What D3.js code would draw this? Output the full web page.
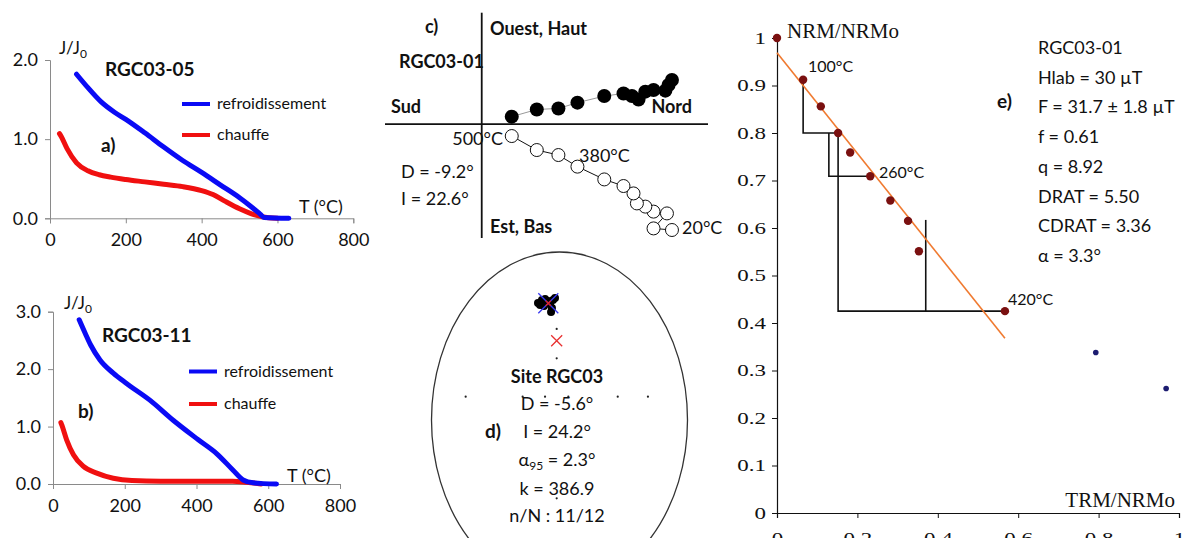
<!DOCTYPE html>
<html><head><meta charset="utf-8">
<script src="https://cdn.jsdelivr.net/npm/d3@7"></script>
<style>
body{margin:0;background:#fff}
svg{display:block}
text{font-family:Lato,"Open Sans",sans-serif;fill:#111}
</style>
</head><body>
<svg id="c" width="1198" height="538"></svg>
<script>
// ---------- Panel a (RGC03-05) ----------
const tempA_cool = [70, 100, 135, 170, 200, 250, 300, 350, 400, 450, 500, 530, 555, 565, 630];
const jA_cool    = [1.82, 1.65, 1.47, 1.34, 1.25, 1.08, 0.90, 0.73, 0.58, 0.42, 0.26, 0.15, 0.05, 0.01, 0.0];
const tempA_heat = [25, 30, 45, 70, 100, 130, 160, 200, 250, 300, 350, 400, 430, 460, 500, 530, 560, 600];
const jA_heat    = [1.07, 1.03, 0.88, 0.70, 0.60, 0.55, 0.52, 0.49, 0.46, 0.43, 0.40, 0.35, 0.30, 0.22, 0.12, 0.06, 0.02, 0.0];
// ---------- Panel b (RGC03-11) ----------
const tempB_cool = [73, 90, 105, 131, 168, 205, 270, 335, 405, 456, 502, 530, 558, 623];
const jB_cool    = [2.86, 2.62, 2.42, 2.16, 1.93, 1.75, 1.46, 1.11, 0.77, 0.53, 0.24, 0.07, 0.02, 0.0];
const tempB_heat = [22, 25, 38, 57, 84, 122, 168, 220, 300, 400, 500, 540, 580];
const jB_heat    = [1.07, 1.02, 0.77, 0.51, 0.31, 0.19, 0.10, 0.06, 0.05, 0.05, 0.05, 0.03, 0.0];
const tempTicks = [0, 200, 400, 600, 800];
const jTicksA = [0, 1, 2];
const jTicksB = [0, 1, 2, 3];
const legendLabels = ["refroidissement", "chauffe"];

// ---------- Panel c (Zijderveld RGC03-01), 20°C -> 500°C ----------
const horizNorth = [9.5, 9.33, 9.17, 8.58, 8.17, 7.83, 7.5, 7.08, 6.12, 4.78, 3.83, 2.75, 1.5];
const horizWest  = [2.2, 1.95, 1.67, 1.7, 1.62, 1.23, 1.4, 1.53, 1.4, 1.07, 0.78, 0.73, 0.37];
const vertNorth  = [9.5, 8.58, 9.25, 8.58, 8.17, 7.75, 7.58, 7.08, 6.12, 4.78, 3.83, 2.75, 1.5];
const vertUp     = [-5.3, -5.22, -4.47, -4.38, -4.13, -3.97, -3.47, -3.1, -2.77, -2.13, -1.55, -1.3, -0.6];

// ---------- Panel d (stereonet, normalized coords) ----------
const sampleX = [-0.168, -0.137, -0.113, -0.090, -0.074, -0.059, -0.066, -0.051, -0.035, -0.121, -0.152];
const sampleY = [0.696, 0.714, 0.720, 0.708, 0.690, 0.667, 0.643, 0.714, 0.726, 0.679, 0.685];
const meanDir = [-0.0875, 0.695];
const refDir  = [-0.022, 0.472];
const gridX = [-0.733, 0.691, 0.455, -0.022, -0.022, -0.022, -0.288, -0.113, 0.069];
const gridY = [0.139, 0.139, 0.139, 0.542, 0.367, -0.466, 0.139, 0.139, 0.139];

// ---------- Panel e (Arai plot RGC03-01) ----------
const trm = [0, 0.065, 0.109, 0.152, 0.182, 0.232, 0.282, 0.326, 0.353, 0.567];
const nrm = [1, 0.912, 0.856, 0.800, 0.759, 0.709, 0.658, 0.615, 0.551, 0.425];
const trmOut = [0.793, 0.968];
const nrmOut = [0.338, 0.262];
const fitTrm = [0, 0.567];
const fitNrm = [0.969, 0.368];
const checkTrm = [[0.065, 0.065, 0.152], [0.129, 0.129, 0.232], [0.152, 0.152, 0.567], [0.370, 0.370]];
const checkNrm = [[0.912, 0.800, 0.800], [0.800, 0.709, 0.709], [0.800, 0.425, 0.425], [0.617, 0.425]];
const araiTicks = [0, 0.1, 0.2, 0.3, 0.4, 0.5, 0.6, 0.7, 0.8, 0.9, 1];
const araiXTicks = [0, 0.2, 0.4, 0.6, 0.8, 1];
const statsLines = ["RGC03-01", "Hlab = 30 µT", "F =  31.7 ± 1.8 µT", "f = 0.61", "q = 8.92", "DRAT = 5.50", "CDRAT = 3.36", "α = 3.3°"];

const svg = d3.select("#c");
const BLUE = "#0a0af5", RED = "#f01010";

function styleAxis(g, color, fontSize, family) {
  g.select(".domain").attr("stroke", color);
  g.selectAll(".tick line").attr("stroke", color);
  g.selectAll(".tick text").attr("fill", "#111").style("font-size", fontSize + "px")
    .style("font-family", family);
}

function thermo(opts) {
  const x = d3.scaleLinear([0, 800], opts.xr);
  const y = d3.scaleLinear([0, opts.ymax], opts.yr);
  const g = svg.append("g");
  const ax = g.append("g").attr("transform", `translate(0,${opts.yr[0]})`)
    .call(d3.axisBottom(x).tickValues(tempTicks).tickSize(5).tickPadding(10).tickFormat(d3.format("d")));
  styleAxis(ax, "#8a8a8a", 18, "Lato");
  const ay = g.append("g").attr("transform", `translate(${opts.xr[0]},0)`)
    .call(d3.axisLeft(y).tickValues(opts.yt).tickSize(5).tickPadding(7).tickFormat(d3.format(".1f")));
  styleAxis(ay, "#8a8a8a", 18, "Lato");
  const line = d3.line().x(d => x(d[0])).y(d => y(d[1])).curve(d3.curveMonotoneX);
  g.append("path").datum(d3.zip(opts.th, opts.jh)).attr("d", line)
    .attr("fill", "none").attr("stroke", RED).attr("stroke-width", 5).attr("stroke-linecap", "round");
  g.append("path").datum(d3.zip(opts.tc, opts.jc)).attr("d", line)
    .attr("fill", "none").attr("stroke", BLUE).attr("stroke-width", 5).attr("stroke-linecap", "round");
  const cols = [BLUE, RED];
  legendLabels.forEach((lab, i) => {
    const ly = opts.leg[1] + i * opts.leg[2];
    g.append("line").attr("x1", opts.leg[0]).attr("x2", opts.leg[0] + 28).attr("y1", ly).attr("y2", ly)
      .attr("stroke", cols[i]).attr("stroke-width", 4);
    g.append("text").attr("x", opts.leg[0] + 35).attr("y", ly + 5).style("font-size", "16px").text(lab);
  });
  g.append("text").attr("x", opts.title[0]).attr("y", opts.title[1]).style("font-size", "19px")
    .style("font-weight", "bold").text(opts.name);
  g.append("text").attr("x", opts.lab[0]).attr("y", opts.lab[1]).style("font-size", "19px")
    .style("font-weight", "bold").text(opts.letter);
  const jj = g.append("text").attr("x", opts.jl[0]).attr("y", opts.jl[1]).style("font-size", "17px");
  jj.append("tspan").text("J/J");
  jj.append("tspan").attr("dy", 4).style("font-size", "12px").text("0");
  g.append("text").attr("x", opts.tl[0]).attr("y", opts.tl[1]).style("font-size", "18px").text("T (°C)");
}

thermo({xr: [50, 353.3], yr: [218.3, 60], ymax: 2, yt: jTicksA,
  tc: tempA_cool, jc: jA_cool, th: tempA_heat, jh: jA_heat,
  leg: [182, 104, 31], title: [105, 76], name: "RGC03-05", lab: [101, 152], letter: "a)",
  jl: [59, 54], tl: [299, 213]});
thermo({xr: [53, 340], yr: [484, 311.7], ymax: 3, yt: jTicksB,
  tc: tempB_cool, jc: jB_cool, th: tempB_heat, jh: jB_heat,
  leg: [189, 371.5, 32.5], title: [102, 342], name: "RGC03-11", lab: [78, 418], letter: "b)",
  jl: [64, 309], tl: [287, 482]});

// ---------- Panel c ----------
{
  const x = d3.scaleLinear([-4.83, 11.3], [385, 708]);
  const y = d3.scaleLinear([-5.7, 5.57], [238, 12.7]);
  const g = svg.append("g");
  g.append("line").attr("x1", x(-4.83)).attr("x2", x(11.3)).attr("y1", y(0)).attr("y2", y(0))
    .attr("stroke", "#111").attr("stroke-width", 1.8);
  g.append("line").attr("x1", x(0)).attr("x2", x(0)).attr("y1", y(5.57)).attr("y2", y(-5.7))
    .attr("stroke", "#111").attr("stroke-width", 1.8);
  const line = d3.line().x(d => x(d[0])).y(d => y(d[1]));
  const hd = d3.zip(horizNorth, horizWest), vd = d3.zip(vertNorth, vertUp);
  g.append("path").datum(hd).attr("d", line).attr("fill", "none").attr("stroke", "#999").attr("stroke-width", 1);
  g.append("path").datum(vd).attr("d", line).attr("fill", "none").attr("stroke", "#111").attr("stroke-width", 1);
  g.selectAll(".h").data(hd).join("circle").attr("cx", d => x(d[0])).attr("cy", d => y(d[1]))
    .attr("r", 7).attr("fill", "#000");
  g.selectAll(".v").data(vd).join("circle").attr("cx", d => x(d[0])).attr("cy", d => y(d[1]))
    .attr("r", 6.5).attr("fill", "#fff").attr("stroke", "#111").attr("stroke-width", 1);
  const T = (xx, yy, s, bold, anchor) => g.append("text").attr("x", xx).attr("y", yy).style("font-size", "18px")
    .style("font-weight", bold ? "bold" : "normal").attr("text-anchor", anchor || "start").text(s);
  T(425, 33, "c)", true);
  T(490, 35, "Ouest, Haut", true);
  T(399, 68, "RGC03-01", true);
  T(391, 113, "Sud", true);
  T(692, 113, "Nord", true, "end");
  T(503, 145, "500°C", false, "end");
  T(401, 178, "D = -9.2°");
  T(401, 205, "I = 22.6°");
  T(490, 233, "Est, Bas", true);
  T(579, 162, "380°C");
  T(682, 234, "20°C");
}

// ---------- Panel d ----------
{
  const cx = 559.5, cy = 420, rx = 128, ry = 168;
  const x = d3.scaleLinear([-1, 1], [cx - rx, cx + rx]);
  const y = d3.scaleLinear([-1, 1], [cy + ry, cy - ry]);
  const g = svg.append("g");
  g.append("ellipse").attr("cx", x(0)).attr("cy", y(0)).attr("rx", x(1) - x(0)).attr("ry", y(0) - y(1))
    .attr("fill", "none").attr("stroke", "#333").attr("stroke-width", 1.3);
  g.selectAll(".gd").data(d3.zip(gridX, gridY)).join("circle").attr("cx", d => x(d[0])).attr("cy", d => y(d[1]))
    .attr("r", 1.1).attr("fill", "#222");
  g.selectAll(".sd").data(d3.zip(sampleX, sampleY)).join("circle").attr("cx", d => x(d[0])).attr("cy", d => y(d[1]))
    .attr("r", 4).attr("fill", "#000");
  const cross = (p, s, col, w) => {
    const X = x(p[0]), Y = y(p[1]);
    g.append("path").attr("d", `M${X - s},${Y - s}L${X + s},${Y + s}M${X - s},${Y + s}L${X + s},${Y - s}`)
      .attr("stroke", col).attr("stroke-width", w).attr("fill", "none");
  };
  cross(meanDir, 10, "#3a3af0", 1.3);
  cross(meanDir, 2.5, "#e02020", 1.3);
  cross(refDir, 5.5, "#e83030", 1.3);
  const T = (xx, yy, s, bold) => g.append("text").attr("x", xx).attr("y", yy).style("font-size", "18px")
    .style("font-weight", bold ? "bold" : "normal").attr("text-anchor", "middle").text(s);
  T(557, 383, "Site RGC03", true);
  T(557, 410, "D = -5.6°");
  T(557, 438, "I = 24.2°");
  const a = g.append("text").attr("x", 557).attr("y", 466).style("font-size", "18px").attr("text-anchor", "middle");
  a.append("tspan").text("α");
  a.append("tspan").attr("dy", 4).style("font-size", "12px").text("95");
  a.append("tspan").attr("dy", -4).text(" = 2.3°");
  T(557, 495, "k = 386.9");
  T(557, 522, "n/N : 11/12");
  g.append("text").attr("x", 485).attr("y", 438).style("font-size", "19px").style("font-weight", "bold").text("d)");
}

// ---------- Panel e ----------
{
  const x = d3.scaleLinear([0, 1], [777, 1179]);
  const y = d3.scaleLinear([0, 1], [513, 38]);
  const g = svg.append("g");
  const serif = "'Liberation Serif','Times New Roman',serif";
  const fmt = d => d === 0 || d === 1 ? d : d3.format(".1f")(d);
  const stretch = 1.35;
  const ax = g.append("g").attr("transform", `translate(0,${y(0)})`)
    .call(d3.axisBottom(x).tickValues(araiXTicks).tickSize(5).tickPadding(14).tickFormat(fmt));
  styleAxis(ax, "#111", 17, serif);
  ax.selectAll(".tick text").attr("transform", `scale(${stretch},1)`);
  const ay = g.append("g").attr("transform", `translate(${x(0)},0)`)
    .call(d3.axisLeft(y).tickValues(araiTicks).tickSize(5).tickPadding(9).tickFormat(fmt));
  styleAxis(ay, "#111", 17, serif);
  ay.selectAll(".tick text").attr("x", -11 / stretch).attr("transform", `scale(${stretch},1)`);
  g.selectAll(".domain").attr("stroke-width", 1.2);
  const line = d3.line().x(d => x(d[0])).y(d => y(d[1]));
  checkTrm.forEach((c, i) => {
    g.append("path").datum(d3.zip(c, checkNrm[i])).attr("d", line).attr("fill", "none")
      .attr("stroke", "#111").attr("stroke-width", 1.6);
  });
  g.append("path").datum(d3.zip(fitTrm, fitNrm)).attr("d", line).attr("fill", "none")
    .attr("stroke", "#f07a30").attr("stroke-width", 1.6);
  g.selectAll(".p").data(d3.zip(trm, nrm)).join("circle").attr("cx", d => x(d[0])).attr("cy", d => y(d[1]))
    .attr("r", 4.2).attr("fill", "#7a1010");
  g.selectAll(".o").data(d3.zip(trmOut, nrmOut)).join("circle").attr("cx", d => x(d[0])).attr("cy", d => y(d[1]))
    .attr("r", 2.8).attr("fill", "#1c1c70");
  g.append("text").attr("x", 787).attr("y", 38).style("font-family", serif).style("font-size", "21px").text("NRM/NRMo");
  g.append("text").attr("x", 1175).attr("y", 507).attr("text-anchor", "end").style("font-family", serif).style("font-size", "21px").text("TRM/NRMo");
  const L = (xx, yy, s) => g.append("text").attr("x", xx).attr("y", yy).style("font-size", "16px").text(s);
  L(808, 72, "100°C");
  L(879, 178, "260°C");
  L(1008, 305, "420°C");
  g.selectAll(".st").data(statsLines).join("text").attr("x", 1038).attr("y", (d, i) => 54 + i * 29.7)
    .style("font-size", "18px").text(d => d);
  g.append("text").attr("x", 997).attr("y", 108).style("font-size", "19px").style("font-weight", "bold").text("e)");
}
</script>
</body></html>
